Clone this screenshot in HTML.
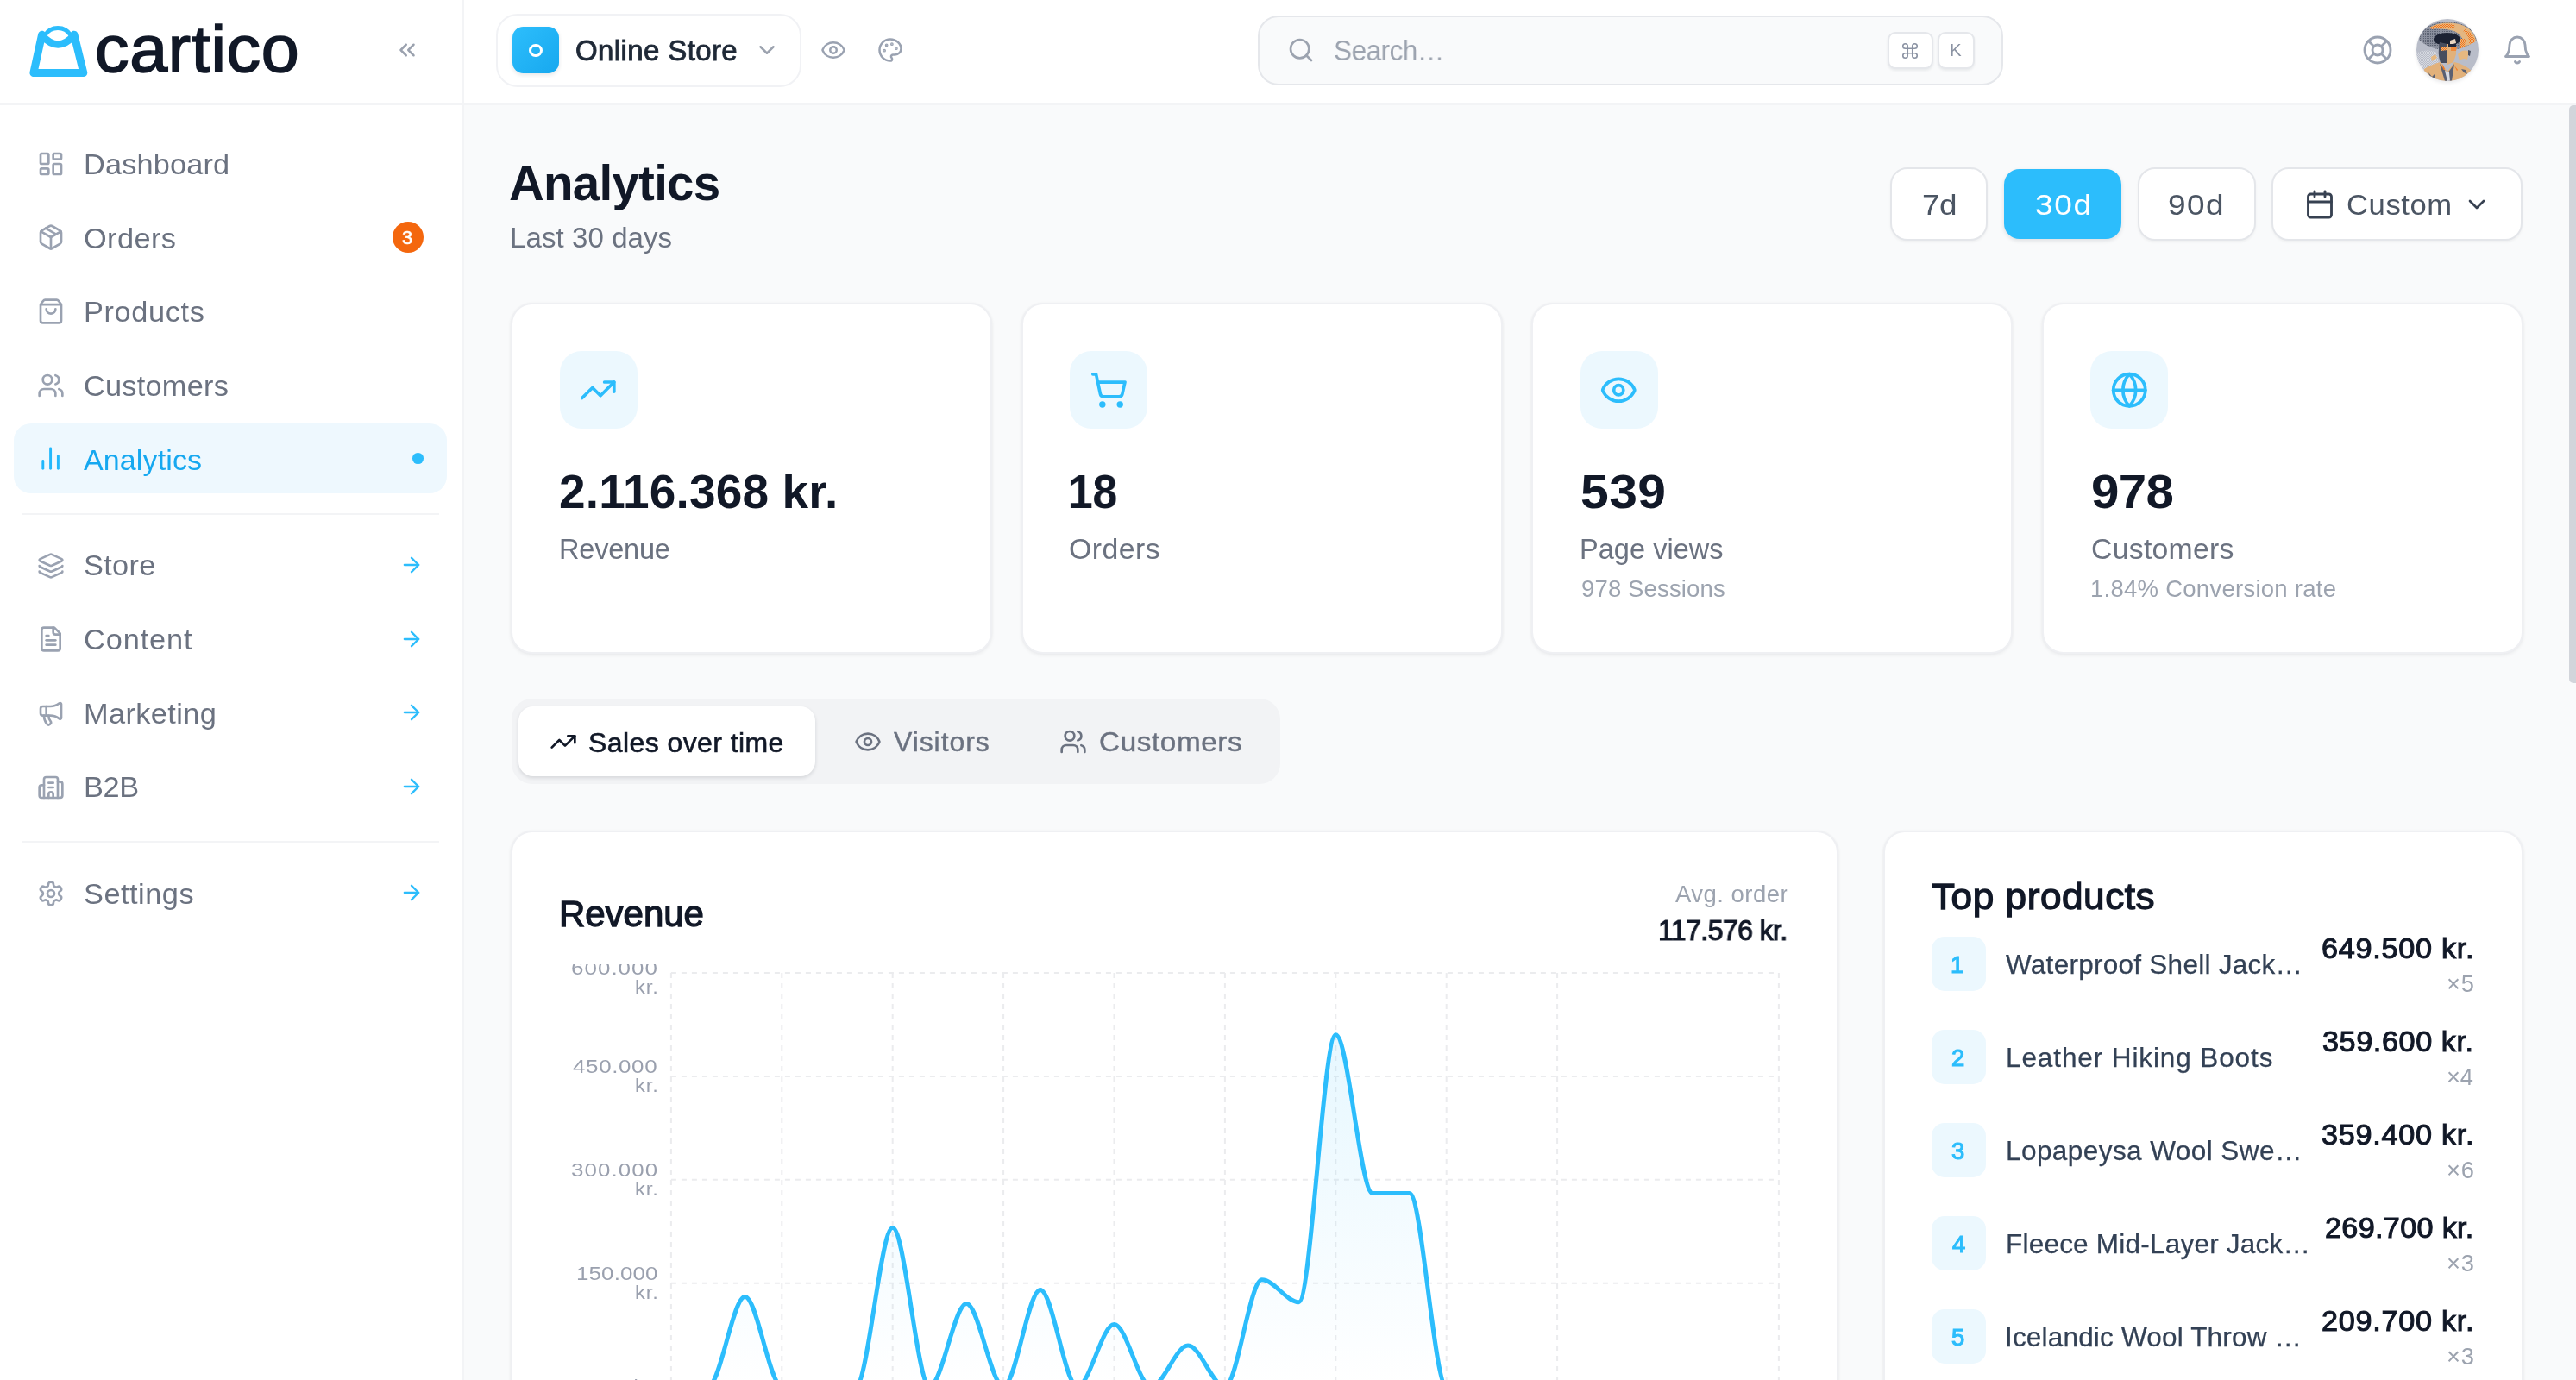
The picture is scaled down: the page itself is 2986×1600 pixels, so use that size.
<!DOCTYPE html>
<html lang="en"><head><meta charset="utf-8"><title>Analytics – Cartico</title>
<style>
*{box-sizing:border-box;margin:0;padding:0}
html,body{width:2986px;height:1600px;overflow:hidden;background:#fff}
body{position:relative;font-family:"Liberation Sans",sans-serif}
.bx{position:absolute}
.ic{position:absolute;overflow:visible}
.t{position:absolute;white-space:nowrap;line-height:1;will-change:transform}
</style></head>
<body>
<div class="bx" style="left:538px;top:122px;width:2448px;height:1478px;background:#f9fafb"></div>
<div class="bx" style="left:536px;top:0;width:2px;height:1600px;background:#f3f4f6"></div>
<div class="bx" style="left:0;top:120px;width:2986px;height:2px;background:#f3f4f6"></div>
<div class="bx" style="left:2978px;top:122px;width:16px;height:670px;border-radius:5px;background:#d2d5db"></div>
<svg class="ic" style="left:0;top:0;width:536px;height:120px" viewBox="0 0 536 120" fill="none" stroke="#2cbdfc" stroke-linecap="round" stroke-linejoin="round"><path d="M48.6 40.2 L38.9 84.5 L96.8 84.5 L85.9 40.2" stroke-width="9"/><path d="M52 41 A17.5 17.5 0 0 1 82 41" stroke-width="5"/><path d="M48.6 41 Q67.25 62 85.9 41" stroke-width="8.5"/></svg>
<svg class="ic" style="left:457px;top:43px;width:30px;height:30px;color:#9aa1ae" viewBox="0 0 24 24" fill="none" stroke="currentColor" stroke-width="2" stroke-linecap="round" stroke-linejoin="round"><path d="m11 17-5-5 5-5"/><path d="m18 17-5-5 5-5"/></svg>
<div class="bx" style="left:16px;top:491px;width:501.8px;height:81.2px;border-radius:20px;background:#eef8fe"></div>
<div class="bx" style="left:25px;top:595px;width:484px;height:2px;background:#f3f4f6"></div>
<div class="bx" style="left:25px;top:975px;width:484px;height:2px;background:#f3f4f6"></div>
<svg class="ic" style="left:43px;top:174.2px;width:32px;height:32px;color:#9aa2b1" viewBox="0 0 24 24" fill="none" stroke="currentColor" stroke-width="2" stroke-linecap="round" stroke-linejoin="round"><rect width="7" height="9" x="3" y="3" rx="1"/><rect width="7" height="5" x="14" y="3" rx="1"/><rect width="7" height="9" x="14" y="12" rx="1"/><rect width="7" height="5" x="3" y="16" rx="1"/></svg>
<svg class="ic" style="left:43px;top:259px;width:32px;height:32px;color:#9aa2b1" viewBox="0 0 24 24" fill="none" stroke="currentColor" stroke-width="2" stroke-linecap="round" stroke-linejoin="round"><path d="m7.5 4.27 9 5.15"/><path d="M21 8a2 2 0 0 0-1-1.73l-7-4a2 2 0 0 0-2 0l-7 4A2 2 0 0 0 3 8v8a2 2 0 0 0 1 1.73l7 4a2 2 0 0 0 2 0l7-4A2 2 0 0 0 21 16Z"/><path d="m3.3 7 8.7 5 8.7-5"/><path d="M12 22V12"/></svg>
<svg class="ic" style="left:43px;top:345px;width:32px;height:32px;color:#9aa2b1" viewBox="0 0 24 24" fill="none" stroke="currentColor" stroke-width="2" stroke-linecap="round" stroke-linejoin="round"><path d="M16 10a4 4 0 0 1-8 0"/><path d="M3.103 6.034h17.794"/><path d="M3.4 5.467a2 2 0 0 0-.4 1.2V20a2 2 0 0 0 2 2h14a2 2 0 0 0 2-2V6.667a2 2 0 0 0-.4-1.2l-2-2.667A2 2 0 0 0 17 2H7a2 2 0 0 0-1.6.8z"/></svg>
<svg class="ic" style="left:43px;top:430.5px;width:32px;height:32px;color:#9aa2b1" viewBox="0 0 24 24" fill="none" stroke="currentColor" stroke-width="2" stroke-linecap="round" stroke-linejoin="round"><path d="M16 21v-2a4 4 0 0 0-4-4H6a4 4 0 0 0-4 4v2"/><circle cx="9" cy="7" r="4"/><path d="M22 21v-2a4 4 0 0 0-3-3.87"/><path d="M16 3.13a4 4 0 0 1 0 7.75"/></svg>
<svg class="ic" style="left:41.3px;top:514.2px;width:35.2px;height:35.2px;color:#22b8fc" viewBox="0 0 24 24" fill="none" stroke="currentColor" stroke-width="2" stroke-linecap="round" stroke-linejoin="round"><line x1="18" x2="18" y1="20" y2="10"/><line x1="12" x2="12" y1="20" y2="4"/><line x1="6" x2="6" y1="20" y2="14"/></svg>
<svg class="ic" style="left:43px;top:639.7px;width:32px;height:32px;color:#9aa2b1" viewBox="0 0 24 24" fill="none" stroke="currentColor" stroke-width="2" stroke-linecap="round" stroke-linejoin="round"><path d="M12.83 2.18a2 2 0 0 0-1.66 0L2.6 6.08a1 1 0 0 0 0 1.83l8.58 3.91a2 2 0 0 0 1.66 0l8.58-3.9a1 1 0 0 0 0-1.83z"/><path d="M2 12a1 1 0 0 0 .58.91l8.6 3.91a2 2 0 0 0 1.65 0l8.58-3.9A1 1 0 0 0 22 12"/><path d="M2 17a1 1 0 0 0 .58.91l8.6 3.91a2 2 0 0 0 1.65 0l8.58-3.9A1 1 0 0 0 22 17"/></svg>
<svg class="ic" style="left:43px;top:725.3px;width:32px;height:32px;color:#9aa2b1" viewBox="0 0 24 24" fill="none" stroke="currentColor" stroke-width="2" stroke-linecap="round" stroke-linejoin="round"><path d="M15 2H6a2 2 0 0 0-2 2v16a2 2 0 0 0 2 2h12a2 2 0 0 0 2-2V7Z"/><path d="M14 2v4a2 2 0 0 0 2 2h4"/><path d="M10 9H8"/><path d="M16 13H8"/><path d="M16 17H8"/></svg>
<svg class="ic" style="left:43px;top:810.9px;width:32px;height:32px;color:#9aa2b1" viewBox="0 0 24 24" fill="none" stroke="currentColor" stroke-width="2" stroke-linecap="round" stroke-linejoin="round"><path d="M11 6a13 13 0 0 0 8.4-2.8A1 1 0 0 1 21 4v12a1 1 0 0 1-1.6.8A13 13 0 0 0 11 14H5a2 2 0 0 1-2-2V8a2 2 0 0 1 2-2z"/><path d="M6 14a12 12 0 0 0 2.4 7.2 2 2 0 0 0 3.2-2.4A8 8 0 0 1 10 14"/><path d="M8 6v8"/></svg>
<svg class="ic" style="left:43px;top:896.5px;width:32px;height:32px;color:#9aa2b1" viewBox="0 0 24 24" fill="none" stroke="currentColor" stroke-width="2" stroke-linecap="round" stroke-linejoin="round"><path d="M10 12h4"/><path d="M10 8h4"/><path d="M14 21v-3a2 2 0 0 0-4 0v3"/><path d="M6 10H4a2 2 0 0 0-2 2v7a2 2 0 0 0 2 2h16a2 2 0 0 0 2-2V9a2 2 0 0 0-2-2h-2"/><path d="M6 21V5a2 2 0 0 1 2-2h8a2 2 0 0 1 2 2v16"/></svg>
<svg class="ic" style="left:43px;top:1019.7px;width:32px;height:32px;color:#9aa2b1" viewBox="0 0 24 24" fill="none" stroke="currentColor" stroke-width="2" stroke-linecap="round" stroke-linejoin="round"><path d="M12.22 2h-.44a2 2 0 0 0-2 2v.18a2 2 0 0 1-1 1.73l-.43.25a2 2 0 0 1-2 0l-.15-.08a2 2 0 0 0-2.73.73l-.22.38a2 2 0 0 0 .73 2.73l.15.1a2 2 0 0 1 1 1.72v.51a2 2 0 0 1-1 1.74l-.15.09a2 2 0 0 0-.73 2.73l.22.38a2 2 0 0 0 2.73.73l.15-.08a2 2 0 0 1 2 0l.43.25a2 2 0 0 1 1 1.73V20a2 2 0 0 0 2 2h.44a2 2 0 0 0 2-2v-.18a2 2 0 0 1 1-1.73l.43-.25a2 2 0 0 1 2 0l.15.08a2 2 0 0 0 2.73-.73l.22-.39a2 2 0 0 0-.73-2.73l-.15-.08a2 2 0 0 1-1-1.74v-.5a2 2 0 0 1 1-1.74l.15-.09a2 2 0 0 0 .73-2.73l-.22-.38a2 2 0 0 0-2.73-.73l-.15.08a2 2 0 0 1-2 0l-.43-.25a2 2 0 0 1-1-1.73V4a2 2 0 0 0-2-2z"/><circle cx="12" cy="12" r="3"/></svg>
<svg class="ic" style="left:463.2px;top:641.1px;width:28px;height:28px;color:#2cbdfc" viewBox="0 0 24 24" fill="none" stroke="currentColor" stroke-width="2" stroke-linecap="round" stroke-linejoin="round"><path d="M5 12h14"/><path d="m12 5 7 7-7 7"/></svg>
<svg class="ic" style="left:463.2px;top:726.7px;width:28px;height:28px;color:#2cbdfc" viewBox="0 0 24 24" fill="none" stroke="currentColor" stroke-width="2" stroke-linecap="round" stroke-linejoin="round"><path d="M5 12h14"/><path d="m12 5 7 7-7 7"/></svg>
<svg class="ic" style="left:463.2px;top:812.3px;width:28px;height:28px;color:#2cbdfc" viewBox="0 0 24 24" fill="none" stroke="currentColor" stroke-width="2" stroke-linecap="round" stroke-linejoin="round"><path d="M5 12h14"/><path d="m12 5 7 7-7 7"/></svg>
<svg class="ic" style="left:463.2px;top:897.9px;width:28px;height:28px;color:#2cbdfc" viewBox="0 0 24 24" fill="none" stroke="currentColor" stroke-width="2" stroke-linecap="round" stroke-linejoin="round"><path d="M5 12h14"/><path d="m12 5 7 7-7 7"/></svg>
<svg class="ic" style="left:463.2px;top:1021.1px;width:28px;height:28px;color:#2cbdfc" viewBox="0 0 24 24" fill="none" stroke="currentColor" stroke-width="2" stroke-linecap="round" stroke-linejoin="round"><path d="M5 12h14"/><path d="m12 5 7 7-7 7"/></svg>
<div class="bx" style="left:455px;top:256.8px;width:36px;height:36px;border-radius:18px;background:#f4670e"></div>
<div class="bx" style="left:478.2px;top:525.2px;width:12.6px;height:12.6px;border-radius:6.3px;background:#2cbdfc"></div>
<div class="bx" style="left:574.5px;top:16px;width:354px;height:84.5px;border-radius:25px;border:2px solid #f1f2f5;background:#fff"></div>
<div class="bx" style="left:594px;top:31px;width:54px;height:54px;border-radius:12.5px;background:linear-gradient(135deg,#2dbefc,#17a8ef);box-shadow:0 2px 5px rgba(17,24,39,.11)"></div>
<div class="bx" style="left:613.1px;top:51.1px;width:15.8px;height:15.2px;border-radius:50%;border:3px solid #fff"></div>
<svg class="ic" style="left:874px;top:43px;width:30px;height:30px;color:#9ca3af" viewBox="0 0 24 24" fill="none" stroke="currentColor" stroke-width="2" stroke-linecap="round" stroke-linejoin="round"><path d="m6 9 6 6 6-6"/></svg>
<svg class="ic" style="left:951px;top:43px;width:30px;height:30px;color:#9aa2b1" viewBox="0 0 24 24" fill="none" stroke="currentColor" stroke-width="2" stroke-linecap="round" stroke-linejoin="round"><path d="M2.062 12.348a1 1 0 0 1 0-.696 10.75 10.75 0 0 1 19.876 0 1 1 0 0 1 0 .696 10.75 10.75 0 0 1-19.876 0"/><circle cx="12" cy="12" r="3"/></svg>
<svg class="ic" style="left:1017px;top:43px;width:30px;height:30px;color:#9aa2b1" viewBox="0 0 24 24" fill="none" stroke="currentColor" stroke-width="2" stroke-linecap="round" stroke-linejoin="round"><circle cx="13.5" cy="6.5" r=".5" fill="currentColor"/><circle cx="17.5" cy="10.5" r=".5" fill="currentColor"/><circle cx="8.5" cy="7.5" r=".5" fill="currentColor"/><circle cx="6.5" cy="12.5" r=".5" fill="currentColor"/><path d="M12 2C6.5 2 2 6.5 2 12s4.5 10 10 10c.926 0 1.648-.746 1.648-1.688 0-.437-.18-.835-.437-1.125-.29-.289-.438-.652-.438-1.125a1.64 1.64 0 0 1 1.668-1.668h1.996c3.051 0 5.555-2.503 5.555-5.554C21.965 6.012 17.461 2 12 2z"/></svg>
<div class="bx" style="left:1458px;top:18px;width:863.5px;height:80.5px;border-radius:24px;border:2px solid #e5e7eb;background:#f9fafb"></div>
<svg class="ic" style="left:1491.7px;top:41.9px;width:32px;height:32px;color:#9ca3af" viewBox="0 0 24 24" fill="none" stroke="currentColor" stroke-width="2" stroke-linecap="round" stroke-linejoin="round"><circle cx="11" cy="11" r="8"/><path d="m21 21-4.3-4.3"/></svg>
<div class="bx" style="left:2188px;top:37px;width:53px;height:43px;border-radius:9px;border:2px solid #e5e7eb;background:#fff;box-shadow:0 2px 3px rgba(17,24,39,.07)"></div>
<div class="bx" style="left:2246px;top:37px;width:43px;height:43px;border-radius:9px;border:2px solid #e5e7eb;background:#fff;box-shadow:0 2px 3px rgba(17,24,39,.07)"></div>
<svg class="ic" style="left:2203.2px;top:48.3px;width:22px;height:22px;color:#8b93a3" viewBox="0 0 24 24" fill="none" stroke="currentColor" stroke-width="1.75" stroke-linecap="round" stroke-linejoin="round"><path d="M15 6v12a3 3 0 1 0 3-3H6a3 3 0 1 0 3 3V6a3 3 0 1 0-3 3h12a3 3 0 1 0-3-3"/></svg>
<svg class="ic" style="left:2738px;top:40px;width:36px;height:36px;color:#9aa2b1" viewBox="0 0 24 24" fill="none" stroke="currentColor" stroke-width="1.9" stroke-linecap="round" stroke-linejoin="round"><circle cx="12" cy="12" r="10"/><path d="m4.93 4.93 4.24 4.24"/><path d="m14.83 9.17 4.24-4.24"/><path d="m14.83 14.83 4.24 4.24"/><path d="m9.17 14.83-4.24 4.24"/><circle cx="12" cy="12" r="4"/></svg>
<svg class="ic" style="left:2900px;top:40px;width:36px;height:36px;color:#9aa2b1" viewBox="0 0 24 24" fill="none" stroke="currentColor" stroke-width="1.9" stroke-linecap="round" stroke-linejoin="round"><path d="M6 8a6 6 0 0 1 12 0c0 7 3 9 3 9H3s3-2 3-9"/><path d="M10.3 21a1.94 1.94 0 0 0 3.4 0"/></svg>
<svg class="ic" style="left:2801px;top:22px;width:72px;height:72px;border-radius:36px;box-shadow:0 2px 4px rgba(17,24,39,.10)" viewBox="0 0 72 72"><defs><clipPath id="av"><circle cx="36" cy="36" r="36"/></clipPath><pattern id="d1" width="2" height="2" patternUnits="userSpaceOnUse"><rect width="2" height="2" fill="#e6b680"/><rect width="1" height="1" fill="#f3751b"/><rect x="1" y="1" width="1" height="1" fill="#f3751b"/></pattern><pattern id="d2" width="2" height="2" patternUnits="userSpaceOnUse"><rect width="2" height="2" fill="#b9bdc9"/><rect width="1" height="1" fill="#d6d9e0"/><rect x="1" y="1" width="1" height="1" fill="#d6d9e0"/></pattern><pattern id="d3" width="2" height="2" patternUnits="userSpaceOnUse"><rect width="2" height="2" fill="#8a8f9d"/><rect width="1" height="1" fill="#5d6373"/></pattern></defs><g clip-path="url(#av)"><rect width="72" height="72" fill="#b9bdc9"/><path d="M0 40 Q10 34 22 38 Q28 48 24 58 L0 64Z" fill="url(#d2)"/><path d="M3 24C5 10 21 2 38 3C55 4 68 12 70 25C61 31 53 34 47 35C43 27 30 25 25 35C16 33 8 29 3 24Z" fill="url(#d3)"/><path d="M15 10C26 3 45 3 55 8C63 12 68 18 69 25C65 29 59 31 54 32C56 23 50 15 40 13C32 11 22 12 15 10Z" fill="#e4b680"/><path d="M16 10C25 5 36 5 45 7L43 11C34 9 26 10 18 12Z" fill="url(#d1)"/><path d="M56 12C63 15 68 21 68 27L61 29C62 23 59 17 54 14Z" fill="url(#d1)"/><path d="M51 23l6 0l-1 9l-6 3z" fill="url(#d1)"/><ellipse cx="35.5" cy="23.5" rx="15.5" ry="7.6" fill="#1c2233"/><path d="M27 27L36 29L35 51L28 51Q24 40 27 27Z" fill="#474d5e"/><path d="M36 29L46 29L46 41L43 50L36 53Z" fill="#e2b17a"/><path d="M39 25l6-2l1 5l-7 2z" fill="#e9d6c2"/><path d="M37 29l9 0l0 3.5l-9 0z" fill="#20263a"/><path d="M28 32l8 0l0 4l-7 1z" fill="url(#d1)"/><path d="M40 33l7 0l-1 4l-6 0z" fill="#f08a3a"/><path d="M48 41Q54 34 61 38L59 47Q53 44 50 49Z" fill="#e6b880"/><path d="M60 36l3 1l-1 6l-2-1z" fill="#4a5060"/><path d="M17 44l5-3l2 4l-6 4z" fill="#e6b880"/><path d="M6 72L9 58Q19 52 28 50L36 61L44 50Q57 53 65 61L68 72Z" fill="#e2b17a"/><path d="M27 52L33 72L41 72L44 52L36 63Z" fill="#5a6072"/><path d="M33 60l3 12l3 0l-1-10z" fill="#d9dce3"/><path d="M14 62l4 5l4-4l-1 5l-5 1z" fill="#5a6072"/><path d="M52 58l5 1l2 5l-4-2z" fill="#5a6072"/><path d="M30 52l3 6l-2 1z" fill="#f3751b"/><path d="M44 54l4 5l-1 1z" fill="#f3751b"/></g></svg>
<div class="bx" style="left:2191px;top:194px;width:113px;height:84.5px;border-radius:20px;border:2px solid #e4e6ea;background:#fff;box-shadow:0 2px 3px rgba(0,0,0,.04)"></div>
<div class="bx" style="left:2477.5px;top:194px;width:137px;height:84.5px;border-radius:20px;border:2px solid #e4e6ea;background:#fff;box-shadow:0 2px 3px rgba(0,0,0,.04)"></div>
<div class="bx" style="left:2633px;top:194px;width:291px;height:84.5px;border-radius:20px;border:2px solid #e4e6ea;background:#fff;box-shadow:0 2px 3px rgba(0,0,0,.04)"></div>
<div class="bx" style="left:2323px;top:196px;width:136px;height:81px;border-radius:18px;background:#2cbdfc;box-shadow:0 2px 5px rgba(17,24,39,.12)"></div>
<svg class="ic" style="left:2671px;top:219px;width:36px;height:36px;color:#374151" viewBox="0 0 24 24" fill="none" stroke="currentColor" stroke-width="1.9" stroke-linecap="round" stroke-linejoin="round"><path d="M8 2v4"/><path d="M16 2v4"/><rect width="18" height="18" x="3" y="4" rx="2"/><path d="M3 10h18"/></svg>
<svg class="ic" style="left:2855px;top:221px;width:32px;height:32px;color:#374151" viewBox="0 0 24 24" fill="none" stroke="currentColor" stroke-width="2" stroke-linecap="round" stroke-linejoin="round"><path d="m6 9 6 6 6-6"/></svg>
<div class="bx" style="left:592px;top:351px;width:558px;height:406.5px;border-radius:25px;background:#fff;border:2px solid #eff0f3;box-shadow:0 2px 4px rgba(17,24,39,.06),0 0 3px rgba(17,24,39,.03)"></div>
<div class="bx" style="left:648.8px;top:407px;width:89.8px;height:89.8px;border-radius:25px;background:#ecf8fe"></div>
<div class="bx" style="left:1183.5px;top:351px;width:558px;height:406.5px;border-radius:25px;background:#fff;border:2px solid #eff0f3;box-shadow:0 2px 4px rgba(17,24,39,.06),0 0 3px rgba(17,24,39,.03)"></div>
<div class="bx" style="left:1240.3px;top:407px;width:89.8px;height:89.8px;border-radius:25px;background:#ecf8fe"></div>
<div class="bx" style="left:1775px;top:351px;width:558px;height:406.5px;border-radius:25px;background:#fff;border:2px solid #eff0f3;box-shadow:0 2px 4px rgba(17,24,39,.06),0 0 3px rgba(17,24,39,.03)"></div>
<div class="bx" style="left:1831.8px;top:407px;width:89.8px;height:89.8px;border-radius:25px;background:#ecf8fe"></div>
<div class="bx" style="left:2366.5px;top:351px;width:558px;height:406.5px;border-radius:25px;background:#fff;border:2px solid #eff0f3;box-shadow:0 2px 4px rgba(17,24,39,.06),0 0 3px rgba(17,24,39,.03)"></div>
<div class="bx" style="left:2423.3px;top:407px;width:89.8px;height:89.8px;border-radius:25px;background:#ecf8fe"></div>
<svg class="ic" style="left:671.45px;top:429.85px;width:44.5px;height:44.5px;color:#2cbdfc" viewBox="0 0 24 24" fill="none" stroke="currentColor" stroke-width="2" stroke-linecap="round" stroke-linejoin="round"><polyline points="22 7 13.5 15.5 8.5 10.5 2 17"/><polyline points="16 7 22 7 22 13"/></svg>
<svg class="ic" style="left:1262.95px;top:429.85px;width:44.5px;height:44.5px;color:#2cbdfc" viewBox="0 0 24 24" fill="none" stroke="currentColor" stroke-width="2" stroke-linecap="round" stroke-linejoin="round"><circle cx="8" cy="21" r="1"/><circle cx="19" cy="21" r="1"/><path d="M2.05 2.05h2l2.66 12.42a2 2 0 0 0 2 1.58h9.78a2 2 0 0 0 1.95-1.57l1.65-7.43H5.12"/></svg>
<svg class="ic" style="left:1854.45px;top:429.85px;width:44.5px;height:44.5px;color:#2cbdfc" viewBox="0 0 24 24" fill="none" stroke="currentColor" stroke-width="2" stroke-linecap="round" stroke-linejoin="round"><path d="M2.062 12.348a1 1 0 0 1 0-.696 10.75 10.75 0 0 1 19.876 0 1 1 0 0 1 0 .696 10.75 10.75 0 0 1-19.876 0"/><circle cx="12" cy="12" r="3"/></svg>
<svg class="ic" style="left:2445.95px;top:429.85px;width:44.5px;height:44.5px;color:#2cbdfc" viewBox="0 0 24 24" fill="none" stroke="currentColor" stroke-width="2" stroke-linecap="round" stroke-linejoin="round"><circle cx="12" cy="12" r="10"/><path d="M12 2a14.5 14.5 0 0 0 0 20 14.5 14.5 0 0 0 0-20"/><path d="M2 12h20"/></svg>
<div class="bx" style="left:592.5px;top:810px;width:891px;height:98.5px;border-radius:24px;background:#f2f3f5"></div>
<div class="bx" style="left:601px;top:819px;width:344px;height:81px;border-radius:17px;background:#fff;box-shadow:0 2px 4px rgba(17,24,39,.13)"></div>
<svg class="ic" style="left:636.8px;top:843.6px;width:32px;height:32px;color:#111827" viewBox="0 0 24 24" fill="none" stroke="currentColor" stroke-width="2" stroke-linecap="round" stroke-linejoin="round"><polyline points="22 7 13.5 15.5 8.5 10.5 2 17"/><polyline points="16 7 22 7 22 13"/></svg>
<svg class="ic" style="left:989.8px;top:844px;width:32px;height:32px;color:#6b7280" viewBox="0 0 24 24" fill="none" stroke="currentColor" stroke-width="2" stroke-linecap="round" stroke-linejoin="round"><path d="M2.062 12.348a1 1 0 0 1 0-.696 10.75 10.75 0 0 1 19.876 0 1 1 0 0 1 0 .696 10.75 10.75 0 0 1-19.876 0"/><circle cx="12" cy="12" r="3"/></svg>
<svg class="ic" style="left:1227.6px;top:843.9px;width:32px;height:32px;color:#6b7280" viewBox="0 0 24 24" fill="none" stroke="currentColor" stroke-width="2" stroke-linecap="round" stroke-linejoin="round"><path d="M16 21v-2a4 4 0 0 0-4-4H6a4 4 0 0 0-4 4v2"/><circle cx="9" cy="7" r="4"/><path d="M22 21v-2a4 4 0 0 0-3-3.87"/><path d="M16 3.13a4 4 0 0 1 0 7.75"/></svg>
<div class="bx" style="left:592px;top:963px;width:1538.5px;height:700px;border-radius:25px;background:#fff;border:2px solid #eff0f3;box-shadow:0 2px 4px rgba(17,24,39,.06),0 0 3px rgba(17,24,39,.03)"></div>
<svg class="ic" style="left:0;top:1120px;width:2986px;height:480px;overflow:hidden" viewBox="0 1120 2986 480" fill="none"><defs><linearGradient id="ag" x1="0" y1="1190" x2="0" y2="1608" gradientUnits="userSpaceOnUse"><stop offset="0" stop-color="#2cbdfc" stop-opacity=".12"/><stop offset="1" stop-color="#2cbdfc" stop-opacity="0"/></linearGradient></defs><g stroke="#ebecee" stroke-width="2" stroke-dasharray="6 6"><line x1="777.9" x2="2061.9" y1="1128" y2="1128"/><line x1="777.9" x2="2061.9" y1="1247.9" y2="1247.9"/><line x1="777.9" x2="2061.9" y1="1367.8" y2="1367.8"/><line x1="777.9" x2="2061.9" y1="1487.7" y2="1487.7"/><line x1="777.9" x2="777.9" y1="1128" y2="1620"/><line x1="906.3" x2="906.3" y1="1128" y2="1620"/><line x1="1034.7" x2="1034.7" y1="1128" y2="1620"/><line x1="1163.1" x2="1163.1" y1="1128" y2="1620"/><line x1="1291.5" x2="1291.5" y1="1128" y2="1620"/><line x1="1419.9" x2="1419.9" y1="1128" y2="1620"/><line x1="1548.3" x2="1548.3" y1="1128" y2="1620"/><line x1="1676.7" x2="1676.7" y1="1128" y2="1620"/><line x1="1805.1" x2="1805.1" y1="1128" y2="1620"/><line x1="2061.9" x2="2061.9" y1="1128" y2="1620"/></g><path d="M777.90,1607.60C792.17,1607.60,806.43,1607.60,820.70,1607.60C834.97,1607.60,849.23,1503.60,863.50,1503.60C877.77,1503.60,892.03,1607.60,906.30,1607.60C920.57,1607.60,934.83,1607.60,949.10,1607.60C963.37,1607.60,977.63,1607.60,991.90,1607.60C1006.17,1607.60,1020.43,1423.50,1034.70,1423.50C1048.97,1423.50,1063.23,1607.60,1077.50,1607.60C1091.77,1607.60,1106.03,1511.60,1120.30,1511.60C1134.57,1511.60,1148.83,1607.60,1163.10,1607.60C1177.37,1607.60,1191.63,1495.60,1205.90,1495.60C1220.17,1495.60,1234.43,1607.60,1248.70,1607.60C1262.97,1607.60,1277.23,1535.60,1291.50,1535.60C1305.77,1535.60,1320.03,1607.60,1334.30,1607.60C1348.57,1607.60,1362.83,1560.08,1377.10,1560.08C1391.37,1560.08,1405.63,1607.60,1419.90,1607.60C1434.17,1607.60,1448.43,1483.80,1462.70,1483.80C1476.97,1483.80,1491.23,1509.68,1505.50,1509.68C1519.77,1509.68,1534.03,1199.68,1548.30,1199.68C1562.57,1199.68,1576.83,1383.44,1591.10,1383.44C1605.37,1383.44,1619.63,1383.44,1633.90,1383.44C1648.17,1383.44,1662.43,1607.60,1676.70,1607.60C1690.97,1607.60,1705.23,1607.60,1719.50,1607.60C1733.77,1607.60,1748.03,1607.60,1762.30,1607.60C1776.57,1607.60,1790.83,1607.60,1805.10,1607.60C1819.37,1607.60,1833.63,1607.60,1847.90,1607.60C1862.17,1607.60,1876.43,1607.60,1890.70,1607.60C1904.97,1607.60,1919.23,1607.60,1933.50,1607.60C1947.77,1607.60,1962.03,1607.60,1976.30,1607.60C1990.57,1607.60,2004.83,1607.60,2019.10,1607.60C2033.37,1607.60,2047.63,1607.60,2061.90,1607.60L2061.90,1607.60L777.90,1607.60Z" fill="url(#ag)"/><path d="M777.90,1607.60C792.17,1607.60,806.43,1607.60,820.70,1607.60C834.97,1607.60,849.23,1503.60,863.50,1503.60C877.77,1503.60,892.03,1607.60,906.30,1607.60C920.57,1607.60,934.83,1607.60,949.10,1607.60C963.37,1607.60,977.63,1607.60,991.90,1607.60C1006.17,1607.60,1020.43,1423.50,1034.70,1423.50C1048.97,1423.50,1063.23,1607.60,1077.50,1607.60C1091.77,1607.60,1106.03,1511.60,1120.30,1511.60C1134.57,1511.60,1148.83,1607.60,1163.10,1607.60C1177.37,1607.60,1191.63,1495.60,1205.90,1495.60C1220.17,1495.60,1234.43,1607.60,1248.70,1607.60C1262.97,1607.60,1277.23,1535.60,1291.50,1535.60C1305.77,1535.60,1320.03,1607.60,1334.30,1607.60C1348.57,1607.60,1362.83,1560.08,1377.10,1560.08C1391.37,1560.08,1405.63,1607.60,1419.90,1607.60C1434.17,1607.60,1448.43,1483.80,1462.70,1483.80C1476.97,1483.80,1491.23,1509.68,1505.50,1509.68C1519.77,1509.68,1534.03,1199.68,1548.30,1199.68C1562.57,1199.68,1576.83,1383.44,1591.10,1383.44C1605.37,1383.44,1619.63,1383.44,1633.90,1383.44C1648.17,1383.44,1662.43,1607.60,1676.70,1607.60C1690.97,1607.60,1705.23,1607.60,1719.50,1607.60C1733.77,1607.60,1748.03,1607.60,1762.30,1607.60C1776.57,1607.60,1790.83,1607.60,1805.10,1607.60C1819.37,1607.60,1833.63,1607.60,1847.90,1607.60C1862.17,1607.60,1876.43,1607.60,1890.70,1607.60C1904.97,1607.60,1919.23,1607.60,1933.50,1607.60C1947.77,1607.60,1962.03,1607.60,1976.30,1607.60C1990.57,1607.60,2004.83,1607.60,2019.10,1607.60C2033.37,1607.60,2047.63,1607.60,2061.90,1607.60" stroke="#2cbdfc" stroke-width="5" stroke-linejoin="round" stroke-linecap="round"/></svg>
<div class="bx" style="left:2182.5px;top:963px;width:742px;height:700px;border-radius:25px;background:#fff;border:2px solid #eff0f3;box-shadow:0 2px 4px rgba(17,24,39,.06),0 0 3px rgba(17,24,39,.03)"></div>
<div class="bx" style="left:2239px;top:1086.1px;width:63.2px;height:63.2px;border-radius:15px;background:#ecf8fe"></div>
<div class="bx" style="left:2239px;top:1194.1px;width:63.2px;height:63.2px;border-radius:15px;background:#ecf8fe"></div>
<div class="bx" style="left:2239px;top:1302.1px;width:63.2px;height:63.2px;border-radius:15px;background:#ecf8fe"></div>
<div class="bx" style="left:2239px;top:1410.1px;width:63.2px;height:63.2px;border-radius:15px;background:#ecf8fe"></div>
<div class="bx" style="left:2239px;top:1518.1px;width:63.2px;height:63.2px;border-radius:15px;background:#ecf8fe"></div>
<span class="t" id="t_logo" style="left:109.60px;top:18.97px;font-size:76px;transform:scaleX(1.04);transform-origin:0 50%;letter-spacing:0.633px;color:#111827;-webkit-text-stroke:1.6px #111827;">cartico</span>
<span class="t" id="t_nav_Dashboard" style="left:97.30px;top:174.17px;font-size:33px;transform:scaleX(1.04);transform-origin:0 50%;letter-spacing:0.150px;color:#6b7280;">Dashboard</span>
<span class="t" id="t_nav_Orders" style="left:97.30px;top:259.77px;font-size:33px;transform:scaleX(1.04);transform-origin:0 50%;letter-spacing:0.400px;color:#6b7280;">Orders</span>
<span class="t" id="t_nav_Products" style="left:97.30px;top:345.37px;font-size:33px;transform:scaleX(1.04);transform-origin:0 50%;letter-spacing:0.600px;color:#6b7280;">Products</span>
<span class="t" id="t_nav_Customers" style="left:97.30px;top:430.97px;font-size:33px;transform:scaleX(1.04);transform-origin:0 50%;letter-spacing:0.225px;color:#6b7280;">Customers</span>
<span class="t" id="t_nav_Store" style="left:96.50px;top:639.47px;font-size:33px;transform:scaleX(1.04);transform-origin:0 50%;letter-spacing:0.300px;color:#6b7280;">Store</span>
<span class="t" id="t_nav_Content" style="left:97.30px;top:725.07px;font-size:33px;transform:scaleX(1.04);transform-origin:0 50%;letter-spacing:0.867px;color:#6b7280;">Content</span>
<span class="t" id="t_nav_Marketing" style="left:97.30px;top:810.67px;font-size:33px;transform:scaleX(1.04);transform-origin:0 50%;letter-spacing:0.375px;color:#6b7280;">Marketing</span>
<span class="t" id="t_nav_B2B" style="left:97.30px;top:896.27px;font-size:33px;transform:scaleX(1.04);transform-origin:0 50%;letter-spacing:-0.400px;color:#6b7280;">B2B</span>
<span class="t" id="t_nav_Settings" style="left:96.50px;top:1019.67px;font-size:33px;transform:scaleX(1.04);transform-origin:0 50%;letter-spacing:0.486px;color:#6b7280;">Settings</span>
<span class="t" id="t_nav_Analytics" style="left:97.40px;top:516.57px;font-size:33px;transform:scaleX(1.03);transform-origin:0 50%;letter-spacing:0.125px;color:#16a8f0;">Analytics</span>
<span class="t" id="t_badge" style="left:466.20px;top:264.85px;font-size:21.8px;letter-spacing:0.000px;color:#fff;-webkit-text-stroke:0.6px #fff;">3</span>
<span class="t" id="t_store" style="left:666.70px;top:41.97px;font-size:33px;letter-spacing:0.382px;color:#1f2937;-webkit-text-stroke:0.9px #1f2937;">Online Store</span>
<span class="t" id="t_search" style="left:1546.30px;top:43.09px;font-size:32.5px;transform:scaleX(0.97);transform-origin:0 50%;letter-spacing:-0.533px;color:#9ca3af;">Search…</span>
<span class="t" id="t_kbdK" style="left:2260.20px;top:47.55px;font-size:20.5px;letter-spacing:0.000px;color:#8b93a3;">K</span>
<span class="t" id="t_title" style="left:590.40px;top:184.97px;font-size:56.5px;font-weight:700;letter-spacing:-0.750px;color:#111827;">Analytics</span>
<span class="t" id="t_sub" style="left:591.00px;top:259.27px;font-size:33px;letter-spacing:0.091px;color:#6b7280;">Last 30 days</span>
<span class="t" id="t_b7" style="left:2227.90px;top:221.17px;font-size:33px;transform:scaleX(1.12);transform-origin:0 50%;letter-spacing:-0.400px;color:#4b5563;">7d</span>
<span class="t" id="t_b30" style="left:2358.90px;top:221.17px;font-size:33px;transform:scaleX(1.12);transform-origin:0 50%;letter-spacing:1.500px;color:#fff;">30d</span>
<span class="t" id="t_b90" style="left:2513.00px;top:221.37px;font-size:33px;transform:scaleX(1.12);transform-origin:0 50%;letter-spacing:1.300px;color:#4b5563;">90d</span>
<span class="t" id="t_bcus" style="left:2719.90px;top:221.37px;font-size:33px;transform:scaleX(1.05);transform-origin:0 50%;letter-spacing:0.520px;color:#4b5563;">Custom</span>
<span class="t" id="t_v1" style="left:648.20px;top:543.24px;font-size:55px;font-weight:700;letter-spacing:0.167px;color:#111827;">2.116.368 kr.</span>
<span class="t" id="t_l1" style="left:647.60px;top:621.29px;font-size:32.5px;letter-spacing:-0.200px;color:#6b7280;">Revenue</span>
<span class="t" id="t_v2" style="left:1238.40px;top:543.24px;font-size:55px;font-weight:700;transform:scaleX(0.94);transform-origin:0 50%;letter-spacing:-0.400px;color:#111827;">18</span>
<span class="t" id="t_l2" style="left:1239.40px;top:621.29px;font-size:32.5px;transform:scaleX(1.04);transform-origin:0 50%;letter-spacing:0.440px;color:#6b7280;">Orders</span>
<span class="t" id="t_v3" style="left:1831.70px;top:543.24px;font-size:55px;font-weight:700;transform:scaleX(1.07);transform-origin:0 50%;letter-spacing:0.400px;color:#111827;">539</span>
<span class="t" id="t_l3" style="left:1831.10px;top:621.49px;font-size:32.5px;letter-spacing:0.044px;color:#6b7280;">Page views</span>
<span class="t" id="t_s3" style="left:1832.50px;top:668.52px;font-size:27.5px;letter-spacing:0.145px;color:#9ca3af;">978 Sessions</span>
<span class="t" id="t_v4" style="left:2424.10px;top:543.24px;font-size:55px;font-weight:700;transform:scaleX(1.06);transform-origin:0 50%;letter-spacing:-0.600px;color:#111827;">978</span>
<span class="t" id="t_l4" style="left:2424.10px;top:621.49px;font-size:32.5px;transform:scaleX(1.04);transform-origin:0 50%;letter-spacing:0.250px;color:#6b7280;">Customers</span>
<span class="t" id="t_s4" style="left:2423.10px;top:668.52px;font-size:27.5px;letter-spacing:0.260px;color:#9ca3af;">1.84% Conversion rate</span>
<span class="t" id="t_tab1" style="left:682.40px;top:844.51px;font-size:32px;letter-spacing:0.414px;color:#111827;-webkit-text-stroke:0.6px #111827;">Sales over time</span>
<span class="t" id="t_tab2" style="left:1035.80px;top:844.41px;font-size:32px;letter-spacing:0.914px;color:#6b7280;-webkit-text-stroke:0.4px #6b7280;">Visitors</span>
<span class="t" id="t_tab3" style="left:1273.60px;top:844.41px;font-size:32px;transform:scaleX(1.04);transform-origin:0 50%;letter-spacing:0.575px;color:#6b7280;-webkit-text-stroke:0.4px #6b7280;">Customers</span>
<span class="t" id="t_ch_t" style="left:648.10px;top:1039.45px;font-size:42px;letter-spacing:-0.033px;color:#111827;-webkit-text-stroke:1.3px #111827;">Revenue</span>
<span class="t" id="t_ch_a" style="left:1941.80px;top:1023.42px;font-size:27.5px;letter-spacing:0.467px;color:#9ca3af;">Avg. order</span>
<span class="t" id="t_ch_v" style="left:1921.60px;top:1062.07px;font-size:33px;transform:scaleX(0.97);transform-origin:0 50%;letter-spacing:-0.600px;color:#111827;-webkit-text-stroke:1.1px #111827;">117.576 kr.</span>
<span class="t" id="t_tp" style="left:2238.90px;top:1019.25px;font-size:42px;transform:scaleX(1.05);transform-origin:0 50%;letter-spacing:0.527px;color:#111827;-webkit-text-stroke:1.3px #111827;">Top products</span>
<span class="t" id="t_rk0" style="left:2260.80px;top:1104.52px;font-size:27.5px;letter-spacing:0.000px;color:#2cbdfc;-webkit-text-stroke:1.1px #2cbdfc;">1</span>
<span class="t" id="t_pn0" style="left:2324.60px;top:1103.34px;font-size:31.5px;letter-spacing:0.267px;color:#334155;-webkit-text-stroke:0.25px #334155;">Waterproof Shell Jack…</span>
<span class="t" id="t_pp0" style="left:2691.40px;top:1084.36px;font-size:32.3px;transform:scaleX(1.06);transform-origin:0 50%;letter-spacing:0.680px;color:#111827;-webkit-text-stroke:1.0px #111827;">649.500 kr.</span>
<span class="t" id="t_pq0" style="left:2835.50px;top:1126.79px;font-size:27.3px;letter-spacing:0.800px;color:#9ca3af;">×5</span>
<span class="t" id="t_rk1" style="left:2262.00px;top:1212.52px;font-size:27.5px;letter-spacing:0.000px;color:#2cbdfc;-webkit-text-stroke:1.1px #2cbdfc;">2</span>
<span class="t" id="t_pn1" style="left:2324.60px;top:1211.34px;font-size:31.5px;letter-spacing:0.895px;color:#334155;-webkit-text-stroke:0.25px #334155;">Leather Hiking Boots</span>
<span class="t" id="t_pp1" style="left:2692.20px;top:1192.36px;font-size:32.3px;transform:scaleX(1.06);transform-origin:0 50%;letter-spacing:0.540px;color:#111827;-webkit-text-stroke:1.0px #111827;">359.600 kr.</span>
<span class="t" id="t_pq1" style="left:2835.50px;top:1234.79px;font-size:27.3px;letter-spacing:-0.200px;color:#9ca3af;">×4</span>
<span class="t" id="t_rk2" style="left:2262.00px;top:1320.52px;font-size:27.5px;letter-spacing:0.000px;color:#2cbdfc;-webkit-text-stroke:1.1px #2cbdfc;">3</span>
<span class="t" id="t_pn2" style="left:2324.60px;top:1319.34px;font-size:31.5px;letter-spacing:0.433px;color:#334155;-webkit-text-stroke:0.25px #334155;">Lopapeysa Wool Swe…</span>
<span class="t" id="t_pp2" style="left:2691.40px;top:1300.36px;font-size:32.3px;transform:scaleX(1.06);transform-origin:0 50%;letter-spacing:0.680px;color:#111827;-webkit-text-stroke:1.0px #111827;">359.400 kr.</span>
<span class="t" id="t_pq2" style="left:2835.50px;top:1342.79px;font-size:27.3px;letter-spacing:0.800px;color:#9ca3af;">×6</span>
<span class="t" id="t_rk3" style="left:2263.00px;top:1428.52px;font-size:27.5px;letter-spacing:0.000px;color:#2cbdfc;-webkit-text-stroke:1.1px #2cbdfc;">4</span>
<span class="t" id="t_pn3" style="left:2324.60px;top:1427.34px;font-size:31.5px;letter-spacing:0.219px;color:#334155;-webkit-text-stroke:0.25px #334155;">Fleece Mid-Layer Jack…</span>
<span class="t" id="t_pp3" style="left:2695.20px;top:1408.36px;font-size:32.3px;transform:scaleX(1.06);transform-origin:0 50%;letter-spacing:0.280px;color:#111827;-webkit-text-stroke:1.0px #111827;">269.700 kr.</span>
<span class="t" id="t_pq3" style="left:2835.50px;top:1450.79px;font-size:27.3px;letter-spacing:0.800px;color:#9ca3af;">×3</span>
<span class="t" id="t_rk4" style="left:2262.00px;top:1536.52px;font-size:27.5px;letter-spacing:0.000px;color:#2cbdfc;-webkit-text-stroke:1.1px #2cbdfc;">5</span>
<span class="t" id="t_pn4" style="left:2323.60px;top:1535.34px;font-size:31.5px;letter-spacing:0.181px;color:#334155;-webkit-text-stroke:0.25px #334155;">Icelandic Wool Throw …</span>
<span class="t" id="t_pp4" style="left:2691.40px;top:1516.36px;font-size:32.3px;transform:scaleX(1.06);transform-origin:0 50%;letter-spacing:0.680px;color:#111827;-webkit-text-stroke:1.0px #111827;">209.700 kr.</span>
<span class="t" id="t_pq4" style="left:2835.50px;top:1558.79px;font-size:27.3px;letter-spacing:0.800px;color:#9ca3af;">×3</span>
<div class="bx" style="left:0;top:1117.6px;width:800px;height:482.4px;overflow:hidden"><div class="bx" style="left:0;top:-1117.6px;width:800px;height:1600px"><span class="t" id="t_ax0a" style="left:662.20px;top:1112.08px;font-size:22px;transform:scaleX(1.18);transform-origin:0 50%;letter-spacing:0.867px;color:#9aa0ae;">600.000</span>
<span class="t" id="t_ax0b" style="left:735.80px;top:1133.98px;font-size:22px;transform:scaleX(1.08);transform-origin:0 50%;letter-spacing:0.800px;color:#9aa0ae;">kr.</span>
<span class="t" id="t_ax1a" style="left:664.20px;top:1226.18px;font-size:22px;transform:scaleX(1.18);transform-origin:0 50%;letter-spacing:0.533px;color:#9aa0ae;">450.000</span>
<span class="t" id="t_ax1b" style="left:735.80px;top:1248.08px;font-size:22px;transform:scaleX(1.08);transform-origin:0 50%;letter-spacing:0.800px;color:#9aa0ae;">kr.</span>
<span class="t" id="t_ax2a" style="left:661.60px;top:1346.08px;font-size:22px;transform:scaleX(1.18);transform-origin:0 50%;letter-spacing:0.900px;color:#9aa0ae;">300.000</span>
<span class="t" id="t_ax2b" style="left:735.80px;top:1367.98px;font-size:22px;transform:scaleX(1.08);transform-origin:0 50%;letter-spacing:0.800px;color:#9aa0ae;">kr.</span>
<span class="t" id="t_ax3a" style="left:667.50px;top:1465.98px;font-size:22px;transform:scaleX(1.18);transform-origin:0 50%;letter-spacing:0.100px;color:#9aa0ae;">150.000</span>
<span class="t" id="t_ax3b" style="left:735.80px;top:1487.88px;font-size:22px;transform:scaleX(1.08);transform-origin:0 50%;letter-spacing:0.800px;color:#9aa0ae;">kr.</span>
<span class="t" id="t_ax4" style="left:711.00px;top:1596.98px;font-size:22px;transform:scaleX(1.08);transform-origin:0 50%;letter-spacing:1.650px;color:#9aa0ae;">0 kr.</span></div></div>
</body></html>
